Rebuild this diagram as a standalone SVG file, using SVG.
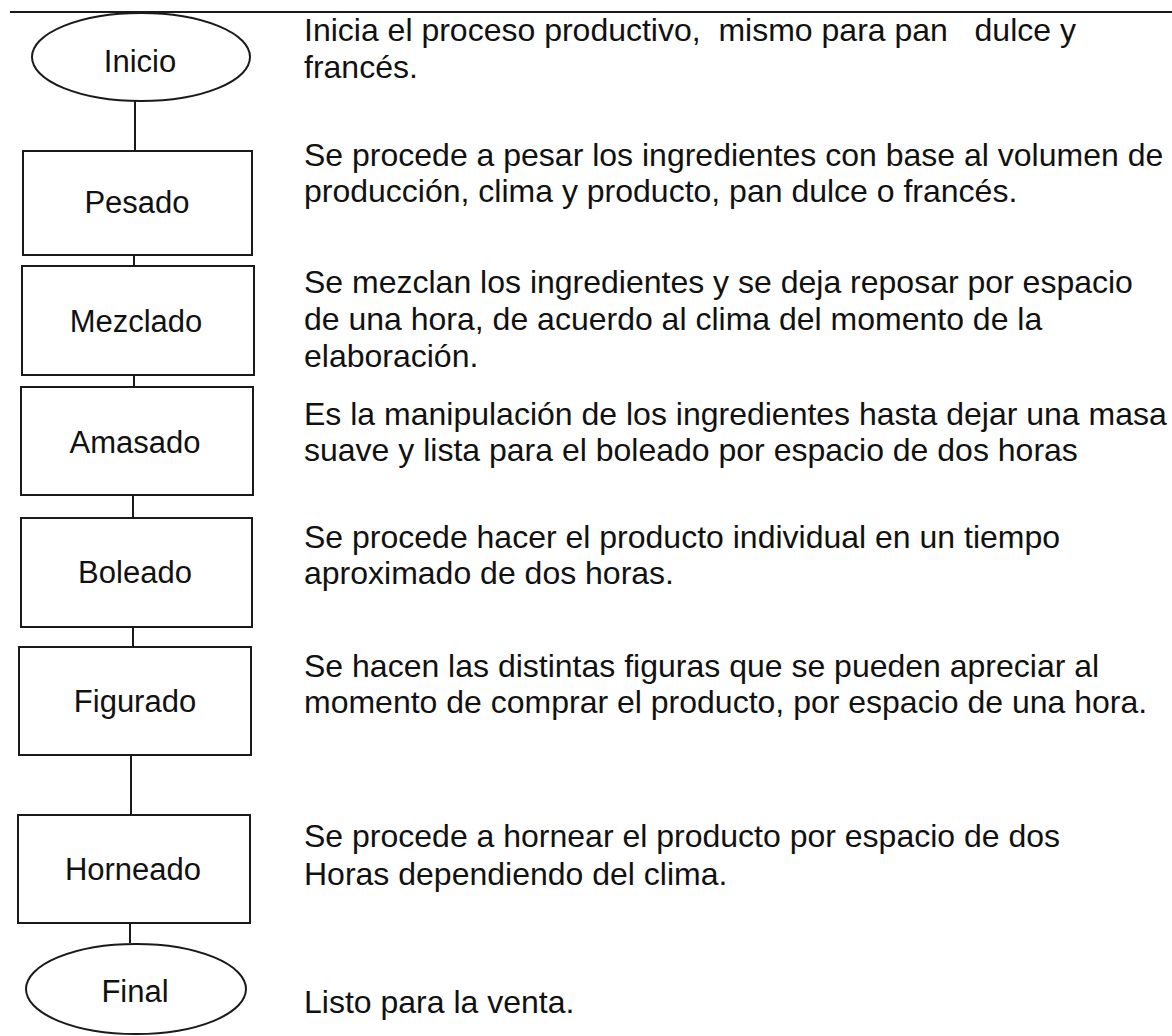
<svg xmlns="http://www.w3.org/2000/svg" width="1172" height="1036" viewBox="0 0 1172 1036">
<style>
.shape{fill:#fff;stroke:#1a1a1a;stroke-width:2}
.conn{stroke:#1a1a1a;stroke-width:2;fill:none}
.lbl{font-family:"Liberation Sans",Arial,sans-serif;font-size:31px;fill:#111;text-anchor:middle}
.desc{font-family:"Liberation Sans",Arial,sans-serif;font-size:32px;fill:#111;white-space:pre}
</style>
<rect width="1172" height="1036" fill="#fff"/>
<line x1="10" y1="12" x2="1172" y2="12" class="conn"/>
<g id="connectors">
<line class="conn" x1="135" y1="101" x2="135" y2="151"/>
<line class="conn" x1="134" y1="255" x2="134" y2="266"/>
<line class="conn" x1="134" y1="375" x2="134" y2="387"/>
<line class="conn" x1="133" y1="495" x2="133" y2="518"/>
<line class="conn" x1="133" y1="627" x2="133" y2="647"/>
<line class="conn" x1="131" y1="755" x2="131" y2="815"/>
<line class="conn" x1="130" y1="923" x2="130" y2="943"/>
</g>
<g id="inicio"><ellipse class="shape" cx="141" cy="57" rx="109" ry="44"/><text class="lbl" x="140" y="72">Inicio</text></g>
<g id="pesado"><rect class="shape" x="23" y="151" width="229" height="104"/><text class="lbl" x="137" y="213">Pesado</text></g>
<g id="mezclado"><rect class="shape" x="22" y="266" width="232" height="109"/><text class="lbl" x="136" y="332">Mezclado</text></g>
<g id="amasado"><rect class="shape" x="21" y="387" width="232" height="108"/><text class="lbl" x="135" y="453">Amasado</text></g>
<g id="boleado"><rect class="shape" x="21" y="518" width="231" height="109"/><text class="lbl" x="135" y="583">Boleado</text></g>
<g id="figurado"><rect class="shape" x="19" y="647" width="232" height="108"/><text class="lbl" x="135" y="712">Figurado</text></g>
<g id="horneado"><rect class="shape" x="18" y="815" width="232" height="108"/><text class="lbl" x="133" y="880">Horneado</text></g>
<g id="final"><ellipse class="shape" cx="136" cy="989" rx="110" ry="45"/><text class="lbl" x="135" y="1002">Final</text></g>
<g id="descriptions">
<text class="desc" x="304" y="41" xml:space="preserve">Inicia el proceso productivo,  mismo para pan   dulce y</text>
<text class="desc" x="304" y="78">francés.</text>
<text class="desc" x="304" y="166">Se procede a pesar los ingredientes con base al volumen de</text>
<text class="desc" x="304" y="202">producción, clima y producto, pan dulce o francés.</text>
<text class="desc" x="304" y="293">Se mezclan los ingredientes y se deja reposar por espacio</text>
<text class="desc" x="304" y="330">de una hora, de acuerdo al clima del momento de la</text>
<text class="desc" x="304" y="367">elaboración.</text>
<text class="desc" x="304" y="425">Es la manipulación de los ingredientes hasta dejar una masa</text>
<text class="desc" x="304" y="461">suave y lista para el boleado por espacio de dos horas</text>
<text class="desc" x="304" y="548">Se procede hacer el producto individual en un tiempo</text>
<text class="desc" x="304" y="584">aproximado de dos horas.</text>
<text class="desc" x="304" y="677">Se hacen las distintas figuras que se pueden apreciar al</text>
<text class="desc" x="304" y="713">momento de comprar el producto, por espacio de una hora.</text>
<text class="desc" x="304" y="847">Se procede a hornear el producto por espacio de dos</text>
<text class="desc" x="304" y="885">Horas dependiendo del clima.</text>
<text class="desc" x="304" y="1013">Listo para la venta.</text>
</g>
</svg>
